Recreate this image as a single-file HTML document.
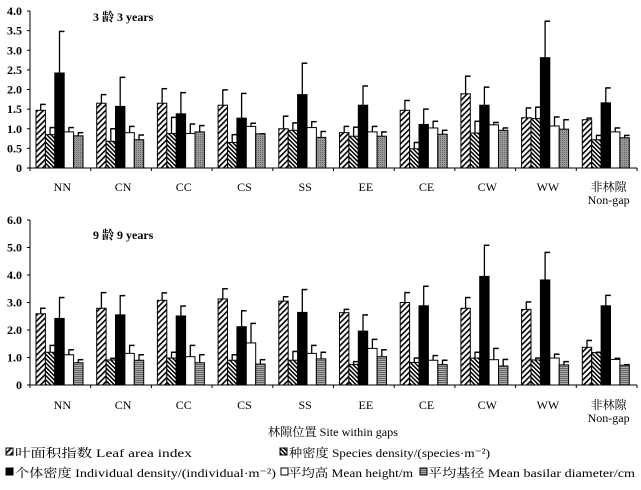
<!DOCTYPE html>
<html><head><meta charset="utf-8"><style>
body{margin:0;background:#fff;}
svg text{font-family:"Liberation Serif","Noto Serif CJK SC",serif;fill:#000;}
</style></head><body>
<svg id="c" width="641" height="485" xmlns="http://www.w3.org/2000/svg">
<defs>
<pattern id="pLai" width="4" height="4" patternUnits="userSpaceOnUse" patternTransform="rotate(45)"><rect width="4" height="4" fill="#fff"/><rect width="1.6" height="4" fill="#000"/></pattern>
<pattern id="pSd" width="3" height="3" patternUnits="userSpaceOnUse" patternTransform="rotate(-45)"><rect width="3" height="3" fill="#fff"/><rect width="1.5" height="3" fill="#000"/></pattern>
<pattern id="pDt" width="2" height="2" patternUnits="userSpaceOnUse"><rect width="2" height="2" fill="#999"/><rect width="1" height="1" fill="#666"/></pattern>
<pattern id="pHz" width="3" height="2" patternUnits="userSpaceOnUse"><rect width="3" height="2" fill="#aaa"/><rect width="3" height="1" fill="#666"/></pattern>
</defs>
</svg>
<script>
const cats=["NN","CN","CC","CS","SS","EE","CE","CW","WW","非林隙"];
const top_lai=[1.47,1.65,1.65,1.6,1.0,0.9,1.47,1.89,1.28,1.23];
const top_lai_e=[1.62,1.87,2.02,1.99,1.32,1.06,1.72,2.34,1.53,1.27];
const top_sd=[0.85,0.68,0.88,0.65,0.96,0.81,0.49,0.89,1.26,0.72];
const top_sd_e=[1.03,1.0,1.29,0.85,1.15,1.04,0.65,1.19,1.55,0.83];
const top_ind=[2.42,1.57,1.38,1.27,1.87,1.6,1.11,1.6,2.81,1.66];
const top_ind_e=[3.48,2.31,1.92,1.9,2.67,2.09,1.5,2.06,3.74,2.04];
const top_h=[0.92,0.9,0.88,1.06,1.03,0.92,1.02,1.1,1.07,0.92];
const top_h_e=[1.03,1.06,1.12,1.14,1.18,1.06,1.19,1.16,1.3,1.02];
const top_d=[0.82,0.72,0.92,0.87,0.78,0.81,0.86,0.96,0.99,0.77];
const top_d_e=[0.9,0.84,1.08,0.87,0.93,0.92,0.96,1.02,1.23,0.83];
const bot_lai=[2.59,2.79,3.08,3.13,3.05,2.63,3.0,2.79,2.75,1.37];
const bot_lai_e=[2.79,3.36,3.35,3.5,3.21,2.75,3.36,3.18,3.02,1.62];
const bot_sd=[1.19,0.91,0.98,0.9,0.9,0.75,0.82,0.98,0.91,1.18];
const bot_sd_e=[1.44,0.97,1.19,1.1,1.22,0.85,0.98,1.19,0.98,1.19];
const bot_ind=[2.42,2.55,2.51,2.12,2.64,1.96,2.88,3.95,3.82,2.88];
const bot_ind_e=[3.18,3.25,2.87,2.7,3.47,2.55,3.59,5.08,4.82,3.26];
const bot_h=[1.1,1.15,1.03,1.53,1.15,1.33,0.9,0.92,0.98,0.93];
const bot_h_e=[1.28,1.44,1.44,2.24,1.44,1.66,1.07,1.33,1.12,0.97];
const bot_d=[0.81,0.9,0.81,0.76,0.95,1.03,0.74,0.69,0.73,0.72];
const bot_d_e=[0.92,1.1,1.1,0.92,1.19,1.28,0.9,0.93,0.85,0.74];
const topTicks=["0","0.5","1.0","1.5","2.0","2.5","3.0","3.5","4.0"];
const topTickVals=[0,0.5,1,1.5,2,2.5,3,3.5,4];
const botTicks=["0","1.0","2.0","3.0","4.0","5.0","6.0"];
const botTickVals=[0,1,2,3,4,5,6];

const svg=document.getElementById('c');
const NS="http://www.w3.org/2000/svg";
function mk(t,a,txt){const e=document.createElementNS(NS,t);for(const k in a)e.setAttribute(k,a[k]);if(txt!=null)e.textContent=txt;svg.appendChild(e);return e;}
const X0=30,GW=60.7,BW=9.4;
function drawPanel(y0,scale,maxV,ticks,tickVals,series,prefix,labelY){
  const y=v=>y0-v*scale;
  let e=mk('line',{x1:X0,y1:y(maxV),x2:X0,y2:y0,stroke:'#000','stroke-width':1});
  
  e=mk('line',{x1:X0,y1:y0,x2:637,y2:y0,stroke:'#000','stroke-width':1});
  
  tickVals.forEach((v,i)=>{
    mk('line',{x1:X0-3,y1:y(v),x2:X0,y2:y(v),stroke:'#000'});
    e=mk('text',{x:22,y:y(v)+4,'text-anchor':'end','font-size':12,'font-weight':'bold'},ticks[i]);
    
  });
  for(let g=0;g<=cats.length;g++){mk('line',{x1:X0+g*GW,y1:y0,x2:X0+g*GW,y2:y0+3,stroke:'#000'});}
  cats.forEach((c,g)=>{
    series.forEach((s,k)=>{
      const x=X0+g*GW+6+k*BW;
      const v=s.v[g],ev=s.e[g];
      const ln=mk('line',{x1:x+BW/2,y1:y(ev),x2:x+BW/2,y2:y(v),stroke:'#000','stroke-width':1.3});
      
      mk('line',{x1:x+BW/2-0.5,y1:y(ev),x2:x+BW/2+5,y2:y(ev),stroke:'#000','stroke-width':1.5});
      const r=mk('rect',{x:x,y:y(v),width:BW,height:v*scale,fill:s.f,stroke:'#000','stroke-width':1});
      
    });
    const cx=X0+g*GW+GW/2+2;
    if(g===9){
      e=mk('text',{x:cx,y:labelY,'text-anchor':'middle','font-size':12},'非林隙');
      
      e=mk('text',{x:cx,y:labelY+13,'text-anchor':'middle','font-size':12},'Non-gap');
      
    }else{
      e=mk('text',{x:cx,y:labelY,'text-anchor':'middle','font-size':12},c);
      
    }
  });
}
drawPanel(168,39.25,4,topTicks,topTickVals,[
 {n:'lai',v:top_lai,e:top_lai_e,f:'url(#pLai)'},{n:'sd',v:top_sd,e:top_sd_e,f:'url(#pSd)'},
 {n:'ind',v:top_ind,e:top_ind_e,f:'#000'},{n:'h',v:top_h,e:top_h_e,f:'#fff'},{n:'d',v:top_d,e:top_d_e,f:'url(#pDt)'}],'top',191);
drawPanel(385,27.5,6,botTicks,botTickVals,[
 {n:'lai',v:bot_lai,e:bot_lai_e,f:'url(#pLai)'},{n:'sd',v:bot_sd,e:bot_sd_e,f:'url(#pSd)'},
 {n:'ind',v:bot_ind,e:bot_ind_e,f:'#000'},{n:'h',v:bot_h,e:bot_h_e,f:'#fff'},{n:'d',v:bot_d,e:bot_d_e,f:'url(#pHz)'}],'bottom',409);
let t=mk('text',{x:93,y:21,'font-size':12,'font-weight':'bold'},'3 龄  3 years');

t=mk('text',{x:93,y:239,'font-size':12,'font-weight':'bold'},'9 龄  9 years');

t=mk('text',{x:268,y:436,'font-size':12,textLength:130,lengthAdjust:'spacingAndGlyphs'},'林隙位置  Site within gaps');

const leg=[[6,457,'url(#pLai)','叶面积指数  Leaf area index',15,177],[280,457,'url(#pSd)','种密度  Species density/(species·m⁻²)',289,201],
 [6,477,'#000','个体密度  Individual density/(individual·m⁻²)',15,261],[281,477,'#fff','平均高  Mean height/m',288,125],[420,477,'url(#pHz)','平均基径  Mean basilar diameter/cm',428,207]];
leg.forEach(l=>{
  const r=mk('rect',{x:l[0],y:l[1]-9,width:7,height:7,fill:l[2],stroke:'#000'});
  
  const tx=mk('text',{x:l[4],y:l[1],'font-size':12,textLength:l[5],lengthAdjust:'spacingAndGlyphs'},l[3]);
  
});
</script>
</body></html>
